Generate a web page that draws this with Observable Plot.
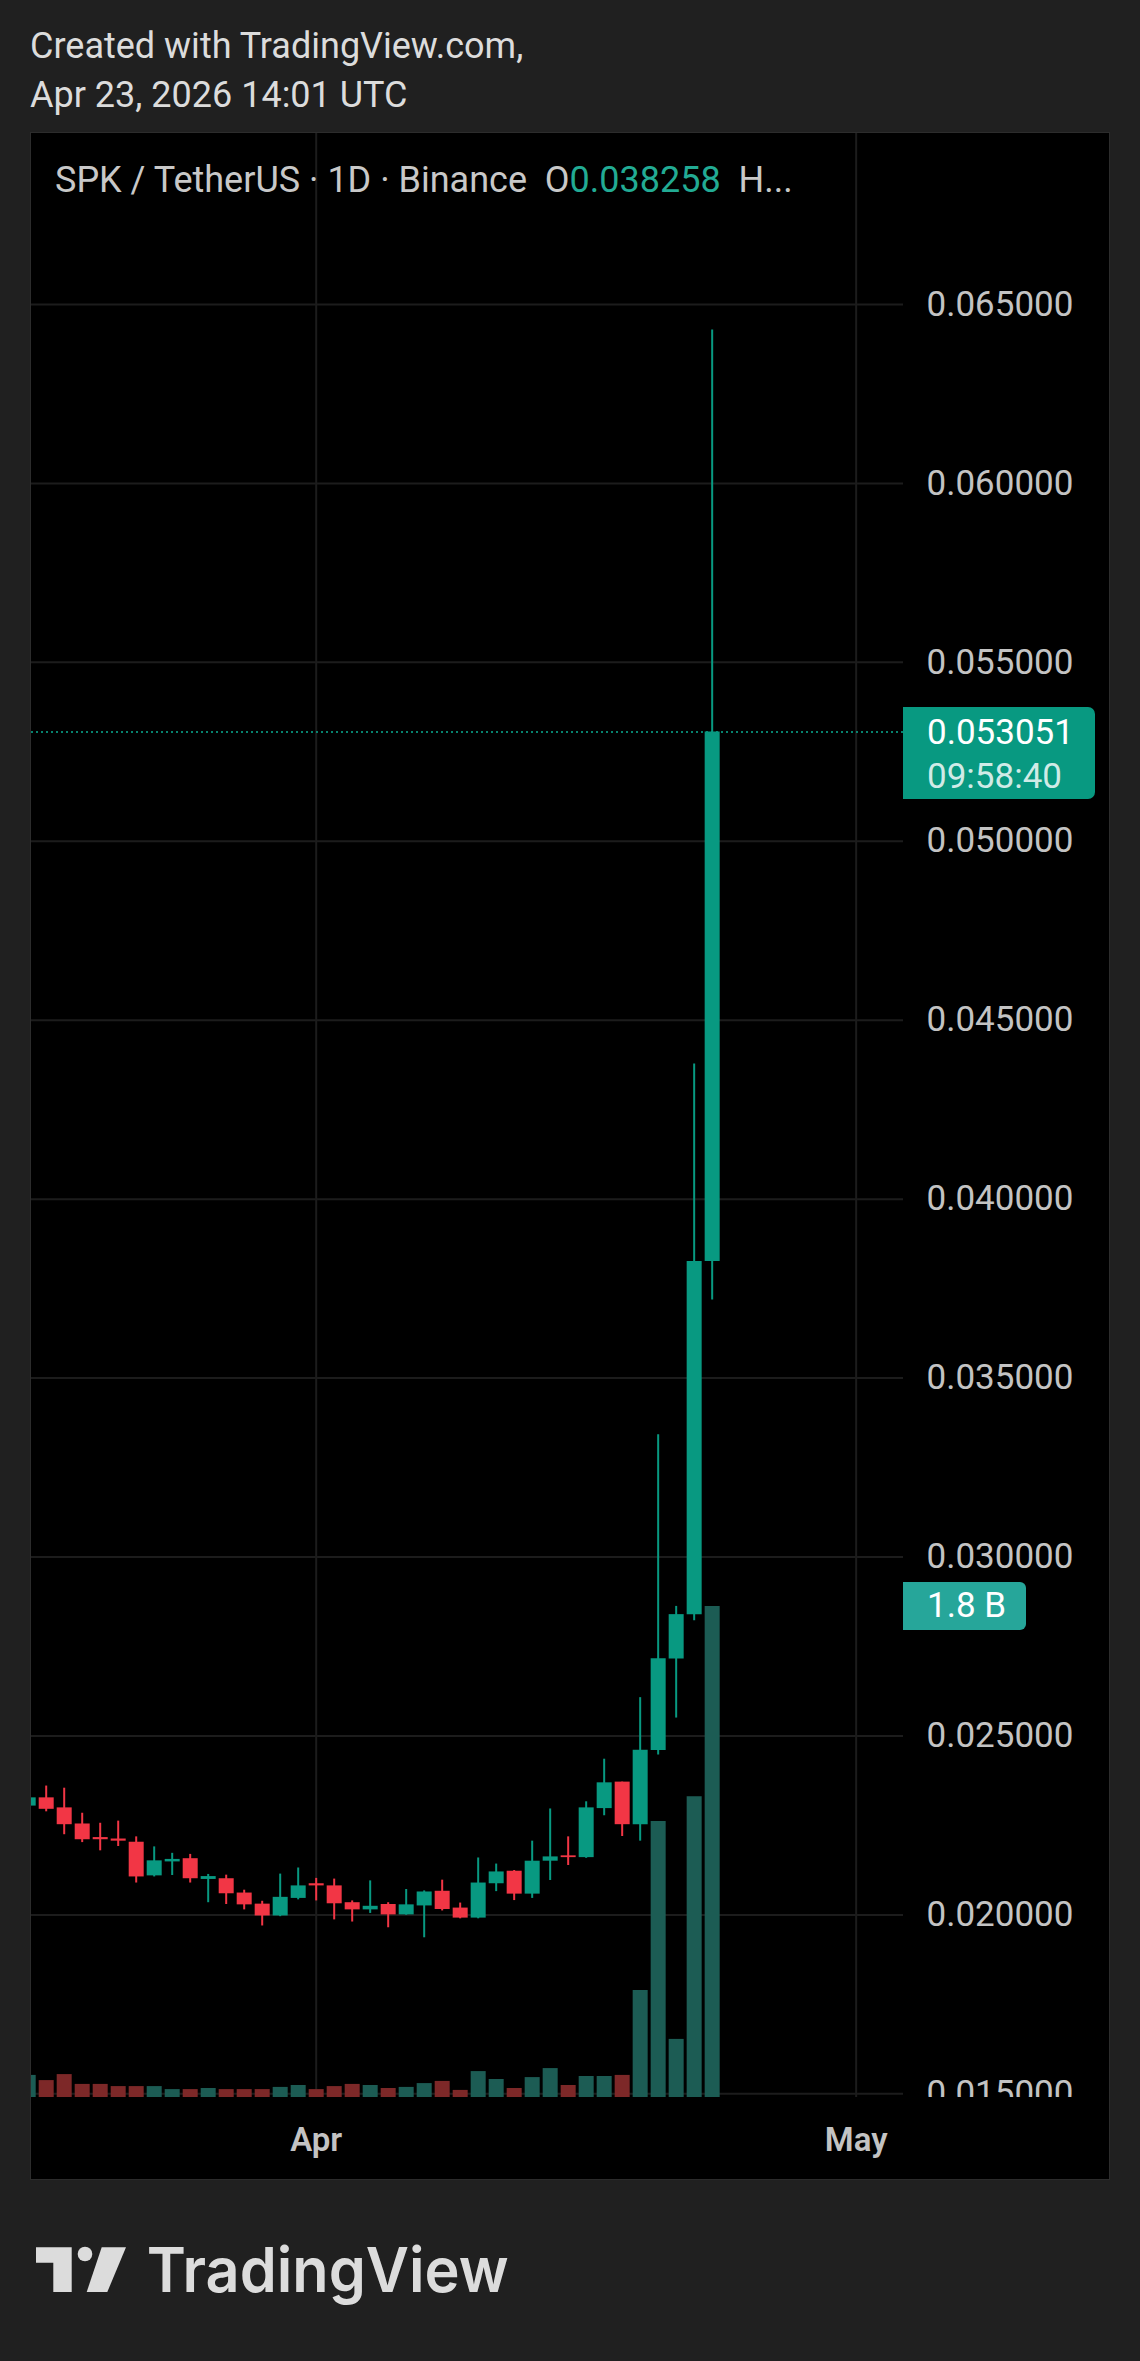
<!DOCTYPE html>
<html>
<head>
<meta charset="utf-8">
<script src="https://cdn.jsdelivr.net/npm/d3@7"></script>
<script src="https://cdn.jsdelivr.net/npm/@observablehq/plot@0.6"></script>
<style>
  html, body { margin:0; padding:0; background:#202020; width:1140px; height:2361px; overflow:hidden;
    font-family: Roboto, "Noto Sans", sans-serif; }
  #credit { position:absolute; left:30px; top:22px; color:#dcdcdc; font-size:36px; line-height:49px; }
  #panel { position:absolute; left:30px; top:132px; width:1078px; height:2046px; background:#000;
    border:1px solid #2c2c2c; overflow:hidden; }
  .layer { position:absolute; left:0; top:0; }
  #legend { position:absolute; left:24px; top:27px; font-size:36px; line-height:40px; color:#c8c8c8; white-space:pre; }
  #legend .val { color:#22ab94; }
  .tag { position:absolute; color:#fff; font-size:35px; box-sizing:border-box; padding-left:24px; }
  #lastTag { background:#089981; width:192px; height:92px; line-height:44px; padding-top:4px; border-radius:0 7px 7px 0; }
  #lastTag .t2 { color:rgba(255,255,255,0.82); }
  #volTag { background:#26a69a; width:123px; height:48px; line-height:48px; border-radius:0 6px 6px 0; }
  #clipper { position:absolute; background:#000; }
  #logo { position:absolute; left:0; top:2230px; }
</style>
</head>
<body>
<div id="credit">Created with TradingView.com,<br>Apr 23, 2026 14:01 UTC</div>
<div id="panel"></div>
<svg id="logo" width="560" height="100" viewBox="0 0 560 100">
  <polygon points="36,17.3 71.7,17.3 71.7,62 53.3,62 53.3,32.7 36,32.7" fill="#dcdcdc"/>
  <circle cx="85" cy="24" r="7.3" fill="#dcdcdc"/>
  <polygon points="101.7,17.3 126,17.3 107.3,62 86.7,62" fill="#dcdcdc"/>
  <text x="146.7" y="62" font-family="Inter, Lato, sans-serif" font-weight="600" font-size="62" fill="#dcdcdc" textLength="362" lengthAdjust="spacingAndGlyphs">TradingView</text>
</svg>
<script>
// ---- data (daily candles, SPK / TetherUS, Binance) ----
const dates = ["2026-03-16","2026-03-17","2026-03-18","2026-03-19","2026-03-20","2026-03-21","2026-03-22",
  "2026-03-23","2026-03-24","2026-03-25","2026-03-26","2026-03-27","2026-03-28","2026-03-29","2026-03-30",
  "2026-03-31","2026-04-01","2026-04-02","2026-04-03","2026-04-04","2026-04-05","2026-04-06","2026-04-07",
  "2026-04-08","2026-04-09","2026-04-10","2026-04-11","2026-04-12","2026-04-13","2026-04-14","2026-04-15",
  "2026-04-16","2026-04-17","2026-04-18","2026-04-19","2026-04-20","2026-04-21","2026-04-22","2026-04-23"];
const open  = [0.02304,0.02327,0.02299,0.02254,0.02216,0.02212,0.02203,0.02109,0.02148,0.02157,0.02099,0.02101,0.02061,
  0.02030,0.01997,0.02046,0.02087,0.02081,0.02034,0.02014,0.02029,0.02000,0.02025,0.02066,0.02019,0.01991,
  0.02087,0.02122,0.02058,0.02150,0.02165,0.02160,0.02297,0.02371,0.02252,0.02459,0.02715,0.02839,0.038258];
const high  = [0.02335,0.02360,0.02354,0.02284,0.02256,0.02262,0.02218,0.02190,0.02172,0.02169,0.02113,0.02111,0.02069,
  0.02038,0.02114,0.02131,0.02102,0.02100,0.02039,0.02095,0.02034,0.02071,0.02067,0.02097,0.02033,0.02159,
  0.02142,0.02124,0.02206,0.02296,0.02218,0.02316,0.02435,0.02371,0.02607,0.03342,0.02862,0.04378,0.06429];
const low   = [0.02298,0.02288,0.02224,0.02202,0.02179,0.02191,0.02089,0.02106,0.02110,0.02089,0.02034,0.02029,0.02014,
  0.01969,0.01995,0.02042,0.02039,0.01986,0.01980,0.02004,0.01964,0.01999,0.01936,0.02011,0.01989,0.01989,
  0.02065,0.02040,0.02046,0.02096,0.02138,0.02158,0.02277,0.02219,0.02206,0.02447,0.02550,0.02822,0.03718];
const close = [0.02327,0.02295,0.02252,0.02210,0.02210,0.02206,0.02106,0.02151,0.02155,0.02101,0.02107,0.02059,0.02028,
  0.01997,0.02049,0.02081,0.02081,0.02031,0.02014,0.02024,0.02000,0.02028,0.02064,0.02015,0.01991,0.02089,
  0.02120,0.02058,0.02150,0.02162,0.02160,0.02299,0.02369,0.02252,0.02460,0.02716,0.02839,0.03826,0.053051];
// volume in billions of SPK
const volume = [0.081,0.062,0.084,0.048,0.048,0.040,0.040,0.040,0.029,0.029,0.033,0.029,0.029,0.029,0.037,0.044,
  0.029,0.040,0.048,0.044,0.033,0.037,0.051,0.059,0.026,0.095,0.066,0.033,0.073,0.106,0.044,0.077,0.077,0.081,
  0.392,1.012,0.213,1.103,1.80];
const priceTicks = [0.015,0.020,0.025,0.030,0.035,0.040,0.045,0.050,0.055,0.060,0.065];
const monthTicks = ["2026-04-01","2026-05-01"];
const lastTime = "09:58:40";

// ---- build ----
const UP = "#089981", DOWN = "#f23645";
const VUP = "#1c5c54", VDOWN = "#7d2828";
const rows = dates.map((d, i) => ({
  date: new Date(d + "T00:00:00Z"), open: open[i], high: high[i], low: low[i], close: close[i],
  volume: volume[i], up: close[i] >= open[i]
}));
const last = rows[rows.length - 1];
const months = monthTicks.map(d => new Date(d + "T00:00:00Z"));

const W = 1078, H = 2046, plotRight = 872, plotBottom = 1964;
const DAY = 864e5, t0 = Date.parse("2026-03-16T00:00:00Z");
const xDomain = [new Date(t0 + 0.1833 * DAY), new Date(t0 + 48.63 * DAY)];
const priceDomain = [0.014897, 0.069778];
const volDomain = [0, 7.2];

const common = {
  width: W, height: H,
  marginLeft: 0, marginRight: W - plotRight, marginTop: 0, marginBottom: H - plotBottom,
  x: {type: "utc", domain: xDomain, axis: null},
  style: {background: "transparent", overflow: "visible", fontFamily: "Roboto, 'Noto Sans', sans-serif", color: "#c3c3c3"}
};

const gridLayer = Plot.plot({
  ...common,
  y: {domain: priceDomain, axis: null},
  marks: [
    Plot.gridY(priceTicks, {stroke: "#1c1c1c", strokeOpacity: 1, strokeWidth: 2}),
    Plot.gridX(months, {stroke: "#1c1c1c", strokeOpacity: 1, strokeWidth: 2}),
    Plot.axisY(priceTicks, {anchor: "right", tickSize: 0, tickPadding: 23, tickFormat: d => d.toFixed(6),
      fontSize: 35, fill: "#c3c3c3"}),
    Plot.axisX(months, {anchor: "bottom", tickSize: 0, tickPadding: 30, tickFormat: d3.utcFormat("%b"),
      fontSize: 33, fontWeight: 600, fill: "#c3c3c3"}),
    Plot.ruleY([last.close], {stroke: UP, strokeDasharray: "2,3", strokeWidth: 2, strokeOpacity: 0.85})
  ]
});

const volLayer = Plot.plot({
  ...common,
  y: {domain: volDomain, axis: null},
  marks: [
    Plot.ruleX(rows, {x: "date", y1: 0, y2: "volume", stroke: d => d.up ? VUP : VDOWN, strokeWidth: 15, clip: true})
  ]
});

const candleLayer = Plot.plot({
  ...common,
  y: {domain: priceDomain, axis: null},
  marks: [
    Plot.ruleX(rows, {x: "date", y1: "low", y2: "high", stroke: d => d.up ? UP : DOWN, strokeWidth: 2, clip: true}),
    Plot.ruleX(rows, {x: "date", y1: "open", y2: "close", stroke: d => d.up ? UP : DOWN, strokeWidth: 15, clip: true})
  ]
});

const panel = document.getElementById("panel");
for (const svg of [gridLayer, volLayer, candleLayer]) {
  svg.classList.add("layer");
  panel.appendChild(svg);
}

// clip the price-scale label under the time-axis strip
const clipper = document.createElement("div");
clipper.id = "clipper";
Object.assign(clipper.style, {left: plotRight + "px", top: plotBottom + "px", width: (W - plotRight) + "px", height: (H - plotBottom) + "px"});
panel.appendChild(clipper);

// legend
const legend = document.createElement("div");
legend.id = "legend";
legend.innerHTML = `SPK / TetherUS · 1D · Binance  O<span class="val">${last.open.toFixed(6)}</span>  H...`;
panel.appendChild(legend);

// last price tag
const yClose = candleLayer.scale("y").apply(last.close);
const lastTag = document.createElement("div");
lastTag.id = "lastTag"; lastTag.className = "tag";
lastTag.innerHTML = `<div>${last.close.toFixed(6)}</div><div class="t2">${lastTime}</div>`;
Object.assign(lastTag.style, {left: plotRight + "px", top: (yClose - 24.5) + "px"});
panel.appendChild(lastTag);

// volume tag
const yVol = volLayer.scale("y").apply(last.volume);
const volTag = document.createElement("div");
volTag.id = "volTag"; volTag.className = "tag";
volTag.textContent = `${last.volume.toFixed(1)} B`;
Object.assign(volTag.style, {left: plotRight + "px", top: (yVol - 24) + "px"});
panel.appendChild(volTag);
</script>
</body>
</html>
